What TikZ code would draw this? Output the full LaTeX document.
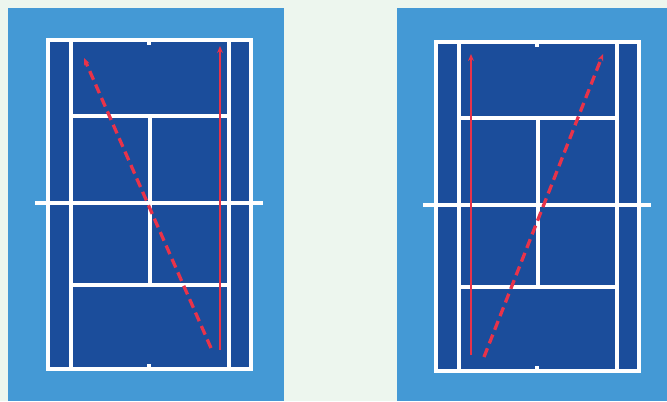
\documentclass[tikz,border=0pt]{standalone}
\usepackage{xcolor}
\usetikzlibrary{arrows.meta,calc}
\definecolor{pagebg}{HTML}{EDF6EE}
\definecolor{panelblue}{HTML}{4499D5}
\definecolor{courtblue}{HTML}{1B4D9B}
\definecolor{shotred}{HTML}{E8334A}
\begin{document}
\begin{tikzpicture}[x=0.3mm, y=-0.3mm]
			\tikzstyle{courtline}=[white, line width=2.6pt]
			\tikzstyle{shot}=[shotred, line width=2.5pt, -{Stealth[length=6pt,width=5pt]}]
			\tikzstyle{dashshot}=[shot, line width=2.8pt, dash pattern=on 8pt off 4.5pt]
			\useasboundingbox (0,0) rectangle (667,401);
			\fill [pagebg] (0,0) rectangle (667,401);
			\fill [panelblue] (8,8) rectangle (284,401);
			\fill [panelblue] (397,8) rectangle (667,401);
			% the two courts
			\foreach \dx/\dy in {0/0, 388/2} {
				\begin{scope}[shift={(\dx,\dy)}]
					\fill [courtblue] (48,40) rectangle (251,369);
					\draw [courtline] (48,40) rectangle (251,369);
					\draw [courtline] (71,40) -- (71,369);
					\draw [courtline] (229,40) -- (229,369);
					\draw [courtline] (71,116) -- (229,116);
					\draw [courtline] (71,285) -- (229,285);
					\draw [courtline] (150,116) -- (150,285);
					\draw [courtline] (149,40) -- (149,45);
					\draw [courtline] (149,369) -- (149,364);
					\draw [courtline] (35,203) -- (263,203);
				\end{scope}
			}
			% left court
			\coordinate (lsolidA) at (220,350);
			\coordinate (lsolidB) at (220,46);
			\coordinate (ldashA) at (211,348);
			\coordinate (ldashB) at (84,58);
			\draw [shot] (lsolidA) -- (lsolidB);
			\draw [dashshot] (ldashA) -- (ldashB);
			% right court
			\coordinate (rsolidA) at (471,355);
			\coordinate (rsolidB) at (471,54);
			\coordinate (rdashA) at (484,357);
			\coordinate (rdashB) at (603,54);
			\draw [shot] (rsolidA) -- (rsolidB);
			\draw [dashshot] (rdashA) -- (rdashB);
		\end{tikzpicture}
\end{document}
